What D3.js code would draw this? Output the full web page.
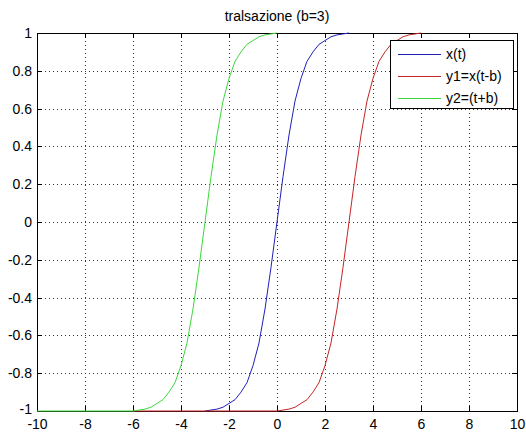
<!DOCTYPE html>
<html lang="it">
<head>
  <meta charset="UTF-8" />
  <title>tralsazione (b=3)</title>
  <script src="https://d3js.org/d3.v7.min.js"></script>
  <style>
    body {
      margin: 0;
      padding: 0;
      background-color: #fff;
    }
    svg {
      display: block;
      font-family: "Liberation Sans", Arial, sans-serif;
    }
    .axis path, .axis line {
      stroke: #000;
      shape-rendering: crispEdges;
    }
    .axis text {
      fill: #000;
      font-size: 14px;
    }
    .grid line {
      stroke: #333;
      stroke-dasharray: 1,3;
      shape-rendering: crispEdges;
    }
  </style>
</head>
<body>
  <script>
    // tick values / labels
    const xTicks = [-10, -8, -6, -4, -2, 0, 2, 4, 6, 8, 10];
    const xTickLabels = ["-10", "-8", "-6", "-4", "-2", "0", "2", "4", "6", "8", "10"];
    const yTicks = [-1, -0.8, -0.6, -0.4, -0.2, 0, 0.2, 0.4, 0.6, 0.8, 1];
    const yTickLabels = ["-1", "-0.8", "-0.6", "-0.4", "-0.2", "0", "0.2", "0.4", "0.6", "0.8", "1"];

    // x(t)  (blu)
    const blueT = [-3, -2.75, -2.5, -2.25, -2, -1.75, -1.5, -1.25, -1, -0.75, -0.5, -0.25, 0,
                   0.25, 0.5, 0.75, 1, 1.25, 1.5, 1.75, 2, 2.25, 2.5, 2.75, 3];
    const blueV = [-1, -0.995, -0.99, -0.98, -0.96, -0.94, -0.9, -0.85, -0.76, -0.64, -0.46, -0.24, 0,
                   0.24, 0.46, 0.64, 0.76, 0.85, 0.9, 0.94, 0.96, 0.98, 0.99, 0.995, 1];

    // y1 = x(t-b)  (rosso)
    const redT = [-6, -3, 0, 0.25, 0.5, 0.75, 1, 1.25, 1.5, 1.75, 2, 2.25, 2.5, 2.75, 3,
                  3.25, 3.5, 3.75, 4, 4.25, 4.5, 4.75, 5, 5.25, 5.5, 5.75, 6];
    const redV = [-1, -1, -1, -0.995, -0.99, -0.98, -0.96, -0.94, -0.9, -0.85, -0.76, -0.64, -0.46, -0.24, 0,
                  0.24, 0.46, 0.64, 0.76, 0.85, 0.9, 0.94, 0.96, 0.98, 0.99, 0.995, 1];

    // y2 = x(t+b)  (verde)
    const greenT = [-10, -8, -6, -5.75, -5.5, -5.25, -5, -4.75, -4.5, -4.25, -4, -3.75, -3.5, -3.25, -3,
                    -2.75, -2.5, -2.25, -2, -1.75, -1.5, -1.25, -1, -0.75, -0.5, -0.25, 0];
    const greenV = [-1, -1, -1, -0.995, -0.99, -0.98, -0.96, -0.94, -0.9, -0.85, -0.76, -0.64, -0.46, -0.24, 0,
                    0.24, 0.46, 0.64, 0.76, 0.85, 0.9, 0.94, 0.96, 0.98, 0.99, 0.995, 1];

    const seriesNames = ["x(t)", "y1=x(t-b)", "y2=(t+b)"];
    const seriesColors = ["#2020b8", "#c42424", "#3cd83c"];

    const width = 526;
    const height = 432;
    const plotLeft = 37, plotRight = 517, plotTop = 33, plotBottom = 411;

    const svg = d3.select("body").append("svg")
      .attr("width", width)
      .attr("height", height);

    const x = d3.scaleLinear().domain([-10, 10]).range([plotLeft, plotRight]);
    const y = d3.scaleLinear().domain([-1, 1]).range([plotBottom, plotTop]);

    // griglia tratteggiata
    const grid = svg.append("g").attr("class", "grid");
    grid.selectAll(".gx")
      .data(xTicks.slice(1, -1))
      .enter().append("line")
      .attr("x1", d => Math.round(x(d)) + 0.5).attr("x2", d => Math.round(x(d)) + 0.5)
      .attr("y1", plotTop).attr("y2", plotBottom);
    grid.selectAll(".gy")
      .data(yTicks.slice(1, -1))
      .enter().append("line")
      .attr("y1", d => Math.round(y(d)) + 0.5).attr("y2", d => Math.round(y(d)) + 0.5)
      .attr("x1", plotLeft).attr("x2", plotRight);

    // assi con tacche verso l'interno (stile matlab)
    svg.append("g").attr("class", "axis")
      .attr("transform", `translate(0,${plotBottom})`)
      .call(d3.axisBottom(x).tickValues(xTicks).tickSizeInner(-5).tickSizeOuter(0).tickPadding(8)
        .tickFormat((d, i) => xTickLabels[i]));
    svg.append("g").attr("class", "axis")
      .attr("transform", `translate(0,${plotTop})`)
      .call(d3.axisTop(x).tickValues(xTicks).tickSizeInner(-5).tickSizeOuter(0).tickFormat(""));
    svg.append("g").attr("class", "axis")
      .attr("transform", `translate(${plotLeft},0)`)
      .call(d3.axisLeft(y).tickValues(yTicks).tickSizeInner(-5).tickSizeOuter(0).tickPadding(5)
        .tickFormat((d, i) => yTickLabels[i]));
    svg.append("g").attr("class", "axis")
      .attr("transform", `translate(${plotRight},0)`)
      .call(d3.axisRight(y).tickValues(yTicks).tickSizeInner(-5).tickSizeOuter(0).tickFormat(""));

    // l'etichetta "-1" sta un po' piu' in alto per non toccare "-10"
    svg.selectAll(".axis text")
      .filter(function() { return this.textContent === "-1"; })
      .attr("dy", "0.2em");

    // curve
    const line = d3.line().x(d => x(d[0])).y(d => y(d[1]));
    const series = [
      d3.zip(blueT, blueV),
      d3.zip(redT, redV),
      d3.zip(greenT, greenV)
    ];
    svg.selectAll(".curve")
      .data(series)
      .enter().append("path")
      .attr("class", "curve")
      .attr("d", line)
      .attr("fill", "none")
      .attr("stroke", (d, i) => seriesColors[i])
      .attr("stroke-width", 1);

    // titolo
    svg.append("text")
      .attr("x", (plotLeft + plotRight) / 2)
      .attr("y", 21)
      .attr("text-anchor", "middle")
      .style("font-size", "14px")
      .text("tralsazione (b=3)");

    // legenda
    const legend = svg.append("g").attr("transform", "translate(390,40)");
    legend.append("rect")
      .attr("x", 0.5).attr("y", 0.5)
      .attr("width", 123).attr("height", 68)
      .attr("fill", "#fff")
      .attr("stroke", "#000");
    const items = legend.selectAll(".item")
      .data(seriesNames)
      .enter().append("g")
      .attr("transform", (d, i) => `translate(0,${14 + i * 22})`);
    items.append("line")
      .attr("x1", 8).attr("x2", 51)
      .attr("y1", 0.5).attr("y2", 0.5)
      .attr("stroke", (d, i) => seriesColors[i]);
    items.append("text")
      .attr("x", 56)
      .attr("y", 5)
      .style("font-size", "14px")
      .text(d => d);
  </script>
</body>
</html>
